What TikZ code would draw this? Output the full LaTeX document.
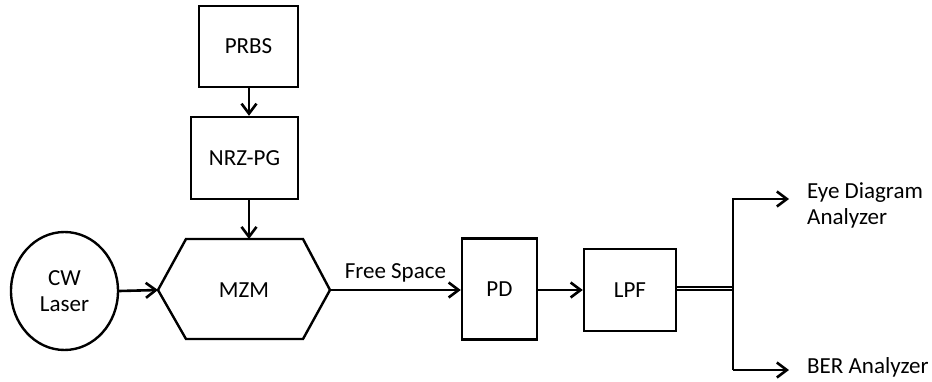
\documentclass[tikz,border=0pt]{standalone}
\usepackage{fontspec}
\setmainfont{Carlito}
\usetikzlibrary{arrows.meta,shapes.geometric}
\begin{document}
\begin{tikzpicture}[x=1pt,y=-1pt,
  every node/.style={font=\fontsize{23}{26}\selectfont},
  blk/.style={draw,line width=2.4pt,inner sep=0pt},
  conn/.style={line width=2.6pt,-{Straight Barb[length=10pt,width=15pt,line width=2.6pt]}},
  lbl/.style={inner sep=0pt,align=left,anchor=west}]
\useasboundingbox[fill=white] (0,0) rectangle (932,381);
\node[blk,minimum width=99pt,minimum height=81pt] (prbs) at (248.5,46.5) {PRBS};
\node[blk,minimum width=107pt,minimum height=82pt] (nrz) at (244.5,158) {NRZ-PG};
\node[blk,ellipse,minimum width=107pt,minimum height=118pt,align=center] (cw) at (64.5,291) {CW\\Laser};
\draw[line width=2.4pt,line join=miter] (158,290) -- (186,239) -- (303,239) -- (330,290) -- (303,339) -- (186,339) -- cycle;
\coordinate (mzmL) at (158,290);
\coordinate (mzmR) at (330,290);
\coordinate (mzmT) at (249,239);
\node (mzm) at (244,290) {MZM};
\node[blk,minimum width=75pt,minimum height=101pt] (pd) at (499.5,289) {PD};
\node[blk,minimum width=92pt,minimum height=82pt] (lpf) at (630,290) {LPF};
\draw[conn] (prbs.south -| mzmT) -- (nrz.north -| mzmT);
\draw[conn] (nrz.south -| mzmT) -- (mzmT);
\draw[conn] (cw.east) -- (mzmL);
\draw[conn] (mzmR) -- node[above=4pt,inner sep=2pt] {Free Space} (pd.west |- mzmR);
\draw[conn] (pd.east |- mzmR) -- (lpf.west |- mzmR);
\coordinate (j) at (733,288);
\coordinate (jt) at (733,199);
\coordinate (jb) at (733,370);
\node[lbl] (eye) at (807,205) {Eye Diagram\\Analyzer};
\node[lbl] (ber) at (807,367) {BER Analyzer};
\draw[line width=2pt,double,double distance=1pt] (lpf.east |- j) -- (j);
\draw[conn,line join=miter] (jb) -- (jt) -- (789,199);
\draw[conn] (jb) -- (789,370);
\end{tikzpicture}
\end{document}
